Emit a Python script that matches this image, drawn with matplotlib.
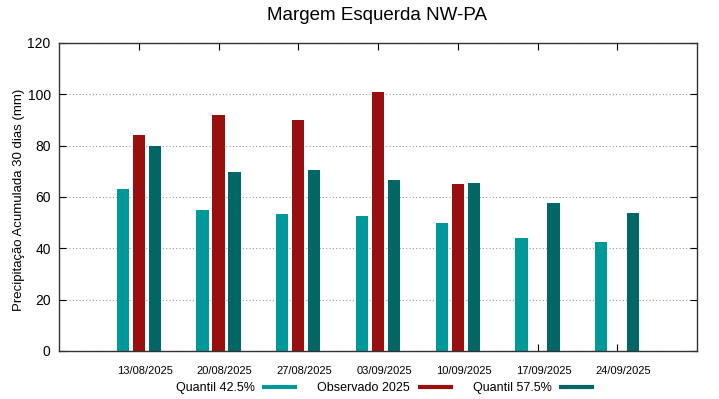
import matplotlib
matplotlib.use('Agg')
from matplotlib import pyplot as plt
from matplotlib.lines import Line2D
import numpy as np

plt.rcParams['font.family'] = ['Liberation Sans', 'DejaVu Sans']

datas = ['13/08/2025', '20/08/2025', '27/08/2025', '03/09/2025',
         '10/09/2025', '17/09/2025', '24/09/2025']
q425 = [63.3, 54.9, 53.3, 52.5, 49.7, 44.0, 42.3]
observado = [84.1, 91.9, 90.1, 100.8, 65.1, np.nan, np.nan]
q575 = [79.8, 69.8, 70.7, 66.6, 65.5, 57.7, 53.7]

c_q1 = '#009999'
c_obs = '#990e0e'
c_q2 = '#006666'

fig = plt.figure(figsize=(7.19, 3.99), dpi=100)
ax = fig.add_axes([59 / 719, 1 - 351 / 399, 638 / 719, 308 / 399])

x = np.arange(len(datas))
w = 0.155
ax.bar(x - 0.2, q425, w, color=c_q1)
ax.bar(x, observado, w, color=c_obs)
ax.bar(x + 0.2, q575, w, color=c_q2)

ax.set_xlim(-1, 7)
ax.set_ylim(0, 120)
# marcas nas datas, rótulos levemente à direita (como no gnuplot)
ax.set_xticks(x)
ax.set_xticklabels([])
ax.set_xticks(x + 0.075, minor=True)
ax.set_xticklabels(datas, minor=True, fontsize=8)
ax.tick_params(axis='x', which='minor', length=0, pad=11)
ax.set_yticks(range(0, 121, 20))
ax.tick_params(axis='y', labelsize=10, direction='in', right=True, length=5, pad=6)
ax.tick_params(axis='x', which='major', direction='in', top=True, length=5)
ax.yaxis.grid(True, linestyle=(0, (1, 2)), color='#999999', linewidth=0.8)
ax.set_axisbelow(True)
for s in ax.spines.values():
    s.set_color('#333333')
    s.set_linewidth(1)

ax.set_ylabel('Precipitação Acumulada 30 dias (mm)', fontsize=9.5)
ax.yaxis.set_label_coords((25 - 59) / 638, 0.49)
fig.text(377 / 719, 1 - 15 / 399, 'Margem Esquerda NW-PA', ha='center', va='center', fontsize=13.5)

handles = [Line2D([], [], color=c, linewidth=3, solid_capstyle='butt') for c in (c_q1, c_obs, c_q2)]
fig.legend(handles, ['Quantil 42.5%', 'Observado 2025', 'Quantil 57.5%'],
           loc='center', bbox_to_anchor=(385 / 719, 1 - 388 / 399), ncol=3,
           frameon=False, markerfirst=False, fontsize=9, handlelength=2.8,
           handletextpad=0.6, columnspacing=1.6, borderpad=0)

fig.savefig('out.png', dpi=100)
